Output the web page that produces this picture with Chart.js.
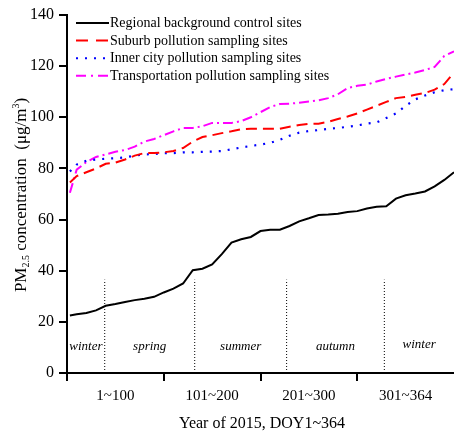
<!DOCTYPE html>
<html lang="en">
<head>
    <meta charset="UTF-8">
    <script src="https://cdn.jsdelivr.net/npm/chart.js"></script>
    <title>PM2.5 concentration, 2015</title>
    <style>
        body {
            margin: 0;
            background: #fff;
        }
        canvas {
            display: block;
        }
    </style>
</head>

<body>
    <canvas id="pmChart" width="454" height="434"></canvas>

    <script>
        // day-of-year positions (scale runs 0..400, ticks every 100)
        const doy = [3, 10, 20, 30, 40, 50, 60, 70, 80, 90, 100, 110, 120, 130, 140, 150, 160, 170, 180, 190,
            200, 210, 220, 230, 240, 250, 260, 270, 280, 290, 300, 310, 320, 330, 340, 350, 360, 370, 380, 390, 400];

        const regional = [22.5, 23, 23.5, 24.5, 26.3, 27, 27.8, 28.5, 29, 29.8, 31.5, 33, 35, 40.2, 40.8, 42.5, 46.5, 51, 52.3, 53.2,
            55.5, 56, 56, 57.5, 59.3, 60.5, 61.8, 62, 62.3, 63, 63.3, 64.3, 65, 65.2, 68.2, 69.5, 70.2, 71, 73, 75.5, 78.5];

        const suburb = [74.5, 77, 78.5, 80, 81.8, 82.3, 83.5, 85, 86, 86, 86.3, 86.8, 88, 90.5, 92.3, 93, 93.8, 94.5, 95.3, 95.5,
            95.5, 95.5, 95.5, 96.3, 97, 97.4, 97.5, 98.2, 99.3, 100.3, 101.5, 103, 104.5, 106, 107.5, 108, 108.8, 109.5, 110.8, 113, 117.5];

        const innerCity = [78.8, 81.5, 83, 83.5, 83.8, 84, 84.3, 85, 85.5, 85.6, 86, 86, 86.3, 86.3, 86.5, 86.6, 86.8, 87.5, 88.2, 88.8,
            89.3, 90, 91.2, 92.8, 94, 94.6, 95, 95.5, 95.8, 96.3, 96.8, 97.5, 98, 99.7, 101.5, 104.5, 107, 108.5, 109.8, 110.6, 111];

        const transport = [70.5, 79.5, 82.5, 84.5, 85.5, 86.5, 87.2, 88.5, 90.5, 91.5, 93, 94.5, 95.8, 95.8, 96.5, 97.8, 97.8, 97.8, 98.5, 100,
            102, 104, 105.2, 105.3, 105.7, 106.2, 106.6, 107.5, 109, 111.4, 112.3, 112.8, 114, 115, 115.9, 116.7, 117.5, 118.5, 119.7, 124, 125.8];

        const seriesNames = ['Regional background control sites', 'Suburb pollution sampling sites',
            'Inner city pollution sampling sites', 'Transportation pollution sampling sites'];

        const seasonBounds = [39, 132, 227, 328];
        const seasonNames = ['winter', 'spring', 'summer', 'autumn', 'winter'];
        const periodLabels = { 50: '1~100', 150: '101~200', 250: '201~300', 350: '301~364' };

        const serif = '"Liberation Serif", "DejaVu Serif", serif';

        function pts(ys) {
            return doy.map((d, i) => ({ x: d, y: ys[i] }));
        }

        // dotted season separators, broken by null points
        const seasonLinePts = [];
        seasonBounds.forEach(b => {
            seasonLinePts.push({ x: b, y: 0 }, { x: b, y: 36.5 }, { x: b, y: null });
        });

        const extras = {
            id: 'extras',
            afterDraw(chart) {
                const ctx = chart.ctx;
                const xs = chart.scales.x;
                const ys = chart.scales.y;
                ctx.save();

                // legend in the top-left corner of the plot
                const lineSets = chart.data.datasets.slice(0, 4);
                lineSets.forEach((ds, i) => {
                    const y = 23 + i * 17.6;
                    ctx.strokeStyle = ds.borderColor;
                    ctx.lineWidth = 2;
                    ctx.setLineDash(ds.legendDash || []);
                    ctx.beginPath();
                    ctx.moveTo(76, y);
                    ctx.lineTo(109, y);
                    ctx.stroke();
                    ctx.setLineDash([]);
                    ctx.fillStyle = '#000';
                    ctx.font = '14px ' + serif;
                    ctx.textAlign = 'left';
                    ctx.textBaseline = 'middle';
                    ctx.fillText(ds.label, 110, y + 0.5);
                });

                // season names
                const bounds = [0].concat(seasonBounds, [400]);
                ctx.font = 'italic 13px ' + serif;
                ctx.textAlign = 'center';
                ctx.textBaseline = 'middle';
                ctx.fillStyle = '#000';
                seasonNames.forEach((name, i) => {
                    const mid = (bounds[i] + bounds[i + 1]) / 2;
                    const yv = i === 4 ? 11 : 10.2;
                    ctx.fillText(name, xs.getPixelForValue(mid), ys.getPixelForValue(yv));
                });

                // x title
                ctx.font = '16px ' + serif;
                ctx.fillText('Year of 2015, DOY1~364', 262, 424);

                // y title with sub/superscript
                ctx.translate(26, 195);
                ctx.rotate(-Math.PI / 2);
                ctx.textBaseline = 'alphabetic';
                ctx.textAlign = 'left';
                const parts = [
                    { t: 'PM', f: '17px ', dy: 0 },
                    { t: '2.5', f: '10px ', dy: 3 },
                    { t: ' concentration  (\u03bcg/m', f: '17px ', dy: 0 },
                    { t: '3', f: '10px ', dy: -7 },
                    { t: ')', f: '17px ', dy: 0 }
                ];
                let total = 0;
                parts.forEach(p => {
                    ctx.font = p.f + serif;
                    p.w = ctx.measureText(p.t).width;
                    total += p.w;
                });
                let cx = -total / 2;
                parts.forEach(p => {
                    ctx.font = p.f + serif;
                    ctx.fillText(p.t, cx, p.dy);
                    cx += p.w;
                });
                ctx.restore();
            }
        };

        new Chart(document.getElementById('pmChart'), {
            type: 'line',
            data: {
                datasets: [{
                    label: seriesNames[0],
                    data: pts(regional),
                    borderColor: '#000000',
                    borderWidth: 2,
                    legendDash: []
                }, {
                    label: seriesNames[1],
                    data: pts(suburb),
                    borderColor: '#ff0000',
                    borderWidth: 2,
                    borderDash: [11, 6],
                    legendDash: [12, 8]
                }, {
                    label: seriesNames[2],
                    data: pts(innerCity),
                    borderColor: '#0000ff',
                    borderWidth: 2.2,
                    borderDash: [2, 7],
                    legendDash: [2, 7]
                }, {
                    label: seriesNames[3],
                    data: pts(transport),
                    borderColor: '#ff00ff',
                    borderWidth: 2,
                    borderDash: [10, 4, 2, 4],
                    legendDash: [10, 5, 2, 5]
                }, {
                    label: 'seasons',
                    data: seasonLinePts,
                    borderColor: '#000000',
                    borderWidth: 1,
                    borderDash: [1, 2],
                    spanGaps: false
                }]
            },
            options: {
                responsive: false,
                animation: false,
                devicePixelRatio: 1,
                elements: {
                    point: { radius: 0 },
                    line: { tension: 0 }
                },
                layout: {
                    padding: { top: 15, right: 0, left: 0, bottom: 0 }
                },
                plugins: {
                    legend: { display: false },
                    tooltip: { enabled: false }
                },
                scales: {
                    x: {
                        type: 'linear',
                        min: 0,
                        max: 400,
                        afterBuildTicks(scale) {
                            scale.ticks = [0, 50, 100, 150, 200, 250, 300, 350].map(v => ({ value: v }));
                        },
                        afterFit(scale) {
                            scale.height = 61;
                        },
                        ticks: {
                            autoSkip: false,
                            maxRotation: 0,
                            padding: 6,
                            color: '#000',
                            font: { family: serif, size: 15 },
                            callback: v => periodLabels[v] || ''
                        },
                        grid: {
                            drawOnChartArea: false,
                            tickLength: 8,
                            lineWidth: 2,
                            color: c => (c.tick && c.tick.value % 100 === 0) ? '#000' : 'rgba(0,0,0,0)'
                        },
                        border: { display: true, color: '#000', width: 2 }
                    },
                    y: {
                        min: 0,
                        max: 140,
                        afterFit(scale) {
                            scale.width = 67;
                        },
                        ticks: {
                            stepSize: 20,
                            padding: 5,
                            color: '#000',
                            font: { family: serif, size: 16 }
                        },
                        grid: {
                            drawOnChartArea: false,
                            tickLength: 8,
                            lineWidth: 2,
                            color: '#000'
                        },
                        border: { display: true, color: '#000', width: 2 }
                    }
                }
            },
            plugins: [extras]
        });
    </script>
</body>

</html>
